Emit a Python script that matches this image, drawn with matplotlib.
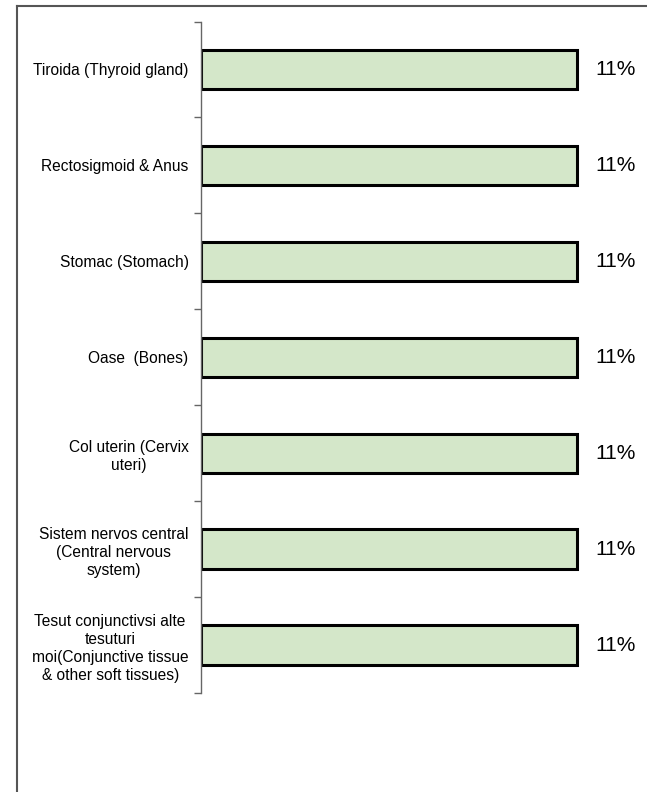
import matplotlib
matplotlib.use("Agg")
from matplotlib import pyplot as plt
from matplotlib.lines import Line2D

plt.rcParams['font.family'] = ['Liberation Sans', 'DejaVu Sans']

categories = [
    "Tiroida (Thyroid gland)",
    "Rectosigmoid & Anus",
    "Stomac (Stomach)",
    "Oase  (Bones)",
    "Col uterin (Cervix\nuteri)",
    "Sistem nervos central\n(Central nervous\nsystem)",
    "Tesut conjunctivsi alte\ntesuturi\nmoi(Conjunctive tissue\n& other soft tissues)",
]
values = [11, 11, 11, 11, 11, 11, 11]
value_labels = ["11%"] * 7

fig = plt.figure(figsize=(6.47, 7.92), dpi=100)

# outer frame (only left and top edges show)
fig.add_artist(Line2D([16.5 / 647, 16.5 / 647], [0, 1 - 5.5 / 792],
                      transform=fig.transFigure, color='#555555', lw=1.5))
fig.add_artist(Line2D([16.5 / 647, 646 / 647], [1 - 5.5 / 792, 1 - 5.5 / 792],
                      transform=fig.transFigure, color='#555555', lw=1.5))

ax = fig.add_axes([201 / 647, 1 - 693 / 792, 446 / 647, 671.5 / 792])

pos = list(range(len(categories)))
bars = ax.barh(pos, values, height=0.41, color='#d4e7c9',
               edgecolor='black', linewidth=2.2)

ax.set_ylim(len(categories) - 0.5, -0.5)
ax.set_xlim(0, 11 * 446 / 376)

for b, lab in zip(bars, value_labels):
    ax.annotate(lab, (b.get_width(), b.get_y() + b.get_height() / 2),
                xytext=(18, 0), textcoords='offset pixels',
                ha='left', va='center', fontsize=15)

ax.set_yticks(pos)
ax.set_yticklabels(categories, fontsize=11.2, multialignment='center',
                   linespacing=1.25)
ax.tick_params(axis='y', which='major', length=0, pad=9)
ax.set_yticks([p - 0.5 for p in pos] + [len(pos) - 0.5], minor=True)
ax.tick_params(axis='y', which='minor', length=5, color='#666666', width=1)
ax.set_xticks([])

for s in ['top', 'right', 'bottom']:
    ax.spines[s].set_visible(False)
ax.spines['left'].set_color('#666666')
ax.spines['left'].set_linewidth(1)

fig.savefig("out.png", dpi=100)
